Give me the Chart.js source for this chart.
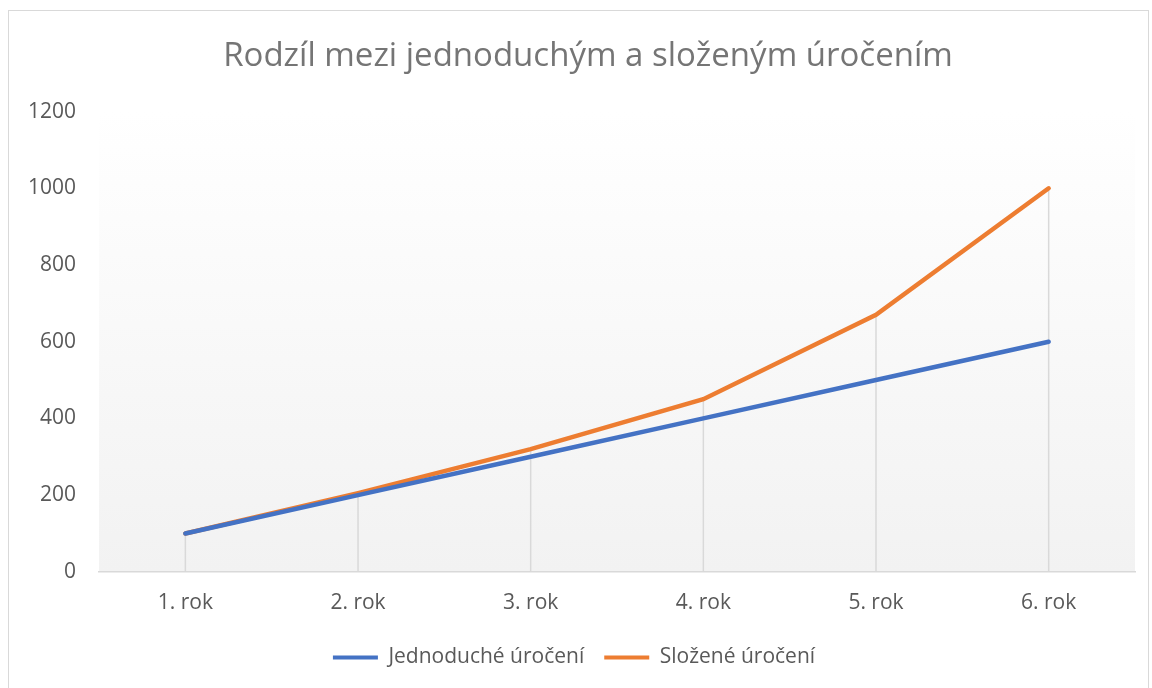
<!DOCTYPE html>
<html>
<head>
<meta charset="utf-8">
<script src="https://cdn.jsdelivr.net/npm/chart.js@4"></script>
<style>
    html, body { margin: 0; padding: 0; background: #fff; }
    #frame {
        position: absolute; left: 8px; top: 10px; width: 1141px; height: 690px;
        border: 1.5px solid #d9d9d9; box-sizing: border-box;
    }
    #wrap { position: absolute; left: 0; top: 0; width: 1152px; height: 688px; }
</style>
</head>
<body>
<div id="frame"></div>
<div id="wrap"><canvas id="chart"></canvas></div>
<script>
// Data
const categories = ['1. rok', '2. rok', '3. rok', '4. rok', '5. rok', '6. rok'];
const simpleInterest = [100, 200, 300, 400, 500, 600];
const compoundInterest = [100, 205, 320, 450, 670, 1000];
const yTicks = [0, 200, 400, 600, 800, 1000, 1200];

document.addEventListener('DOMContentLoaded', function () {
    const fontFamily = "'Open Sans', 'Noto Sans', sans-serif";
    const textColor = '#595959';

    // Pozadí plochy grafu (světlý přechod)
    const plotBackground = {
        id: 'plotBackground',
        beforeDraw(chart) {
            const { ctx, chartArea: a } = chart;
            const g = ctx.createLinearGradient(0, a.top, 0, a.bottom);
            g.addColorStop(0, '#ffffff');
            g.addColorStop(1, '#f2f2f2');
            ctx.save();
            ctx.fillStyle = g;
            ctx.fillRect(a.left, a.top, a.right - a.left, a.bottom - a.top);
            ctx.restore();
        }
    };

    // Svislé spojnice od nejvyššího bodu k ose
    const dropLines = {
        id: 'dropLines',
        beforeDatasetsDraw(chart) {
            const { ctx, scales: { x, y } } = chart;
            ctx.save();
            ctx.strokeStyle = '#d9d9d9';
            ctx.lineWidth = 1.5;
            categories.forEach((c, i) => {
                const top = Math.max(...chart.data.datasets.map(d => d.data[i]));
                const px = x.getPixelForValue(i);
                ctx.beginPath();
                ctx.moveTo(px, y.getPixelForValue(top));
                ctx.lineTo(px, y.getPixelForValue(0));
                ctx.stroke();
            });
            ctx.restore();
        }
    };

    // Nadpis je v originále posunutý trochu doprava
    const titleShift = {
        id: 'titleShift',
        afterLayout(chart) {
            if (chart.titleBlock) chart.titleBlock.left += 28;
        }
    };

    new Chart(document.getElementById('chart'), {
        type: 'line',
        data: {
            labels: categories,
            datasets: [{
                label: 'Jednoduché úročení',
                data: simpleInterest,
                borderColor: '#4472c4',
                backgroundColor: '#4472c4',
                borderWidth: 4.5,
                borderCapStyle: 'round',
                pointRadius: 0,
                tension: 0
            }, {
                label: 'Složené úročení',
                data: compoundInterest,
                borderColor: '#ed7d31',
                backgroundColor: '#ed7d31',
                borderWidth: 4.5,
                borderCapStyle: 'round',
                pointRadius: 0,
                tension: 0
            }]
        },
        options: {
            responsive: true,
            maintainAspectRatio: false,
            animation: false,
            layout: { padding: { left: 13, right: 17, top: 20, bottom: 10 } },
            plugins: {
                title: {
                    display: true,
                    text: 'Rodzíl mezi jednoduchým a složeným úročením',
                    color: '#757575',
                    font: { family: fontFamily, size: 33, weight: 'normal' },
                    padding: { top: 17, bottom: 35 }
                },
                legend: {
                    position: 'bottom',
                    labels: {
                        color: textColor,
                        font: { family: fontFamily, size: 21 },
                        boxWidth: 45,
                        boxHeight: 4,
                        padding: 20,
                        generateLabels: chart => Chart.defaults.plugins.legend.labels.generateLabels(chart)
                            .map(l => Object.assign(l, { lineWidth: 0 }))
                    }
                },
                tooltip: { enabled: false }
            },
            scales: {
                x: {
                    offset: true,
                    grid: { display: false },
                    border: { display: true, color: '#d9d9d9', width: 1.5 },
                    ticks: {
                        color: textColor,
                        font: { family: fontFamily, size: 21 },
                        padding: 11
                    }
                },
                y: {
                    min: 0,
                    max: 1200,
                    afterBuildTicks: axis => { axis.ticks = yTicks.map(v => ({ value: v })); },
                    grid: { display: false },
                    border: { display: false },
                    ticks: {
                        color: textColor,
                        font: { family: fontFamily, size: 21 },
                        padding: 15,
                        callback: value => String(value)
                    }
                }
            }
        },
        plugins: [plotBackground, dropLines, titleShift]
    });
});
</script>
</body>
</html>
